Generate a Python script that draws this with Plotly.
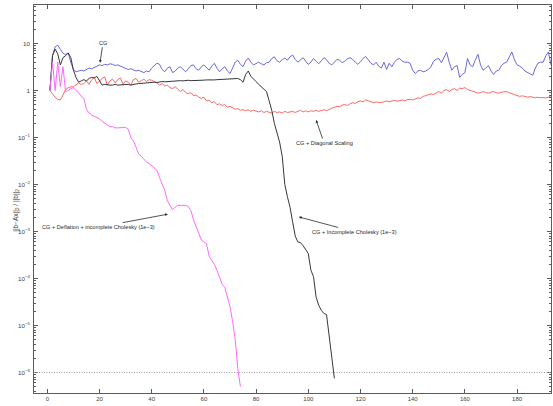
import math
import plotly.graph_objects as go

# ---------------- data ----------------
cg = [1.0, 5.5, 8.5, 9.2, 7.5, 6.2, 5.8, 6.3, 4.0, 2.8,
      2.5, 2.6, 2.7, 2.6, 2.8, 3.0, 2.9, 3.1, 3.3, 3.5,
      3.4, 3.6, 3.5, 3.7, 3.6, 3.4, 3.5, 3.3, 3.1, 3.0,
      2.8, 2.9, 2.7, 2.6, 2.7, 2.5, 2.4, 2.6, 2.5, 3.0,
      3.4, 3.8, 3.6, 2.8, 2.5, 3.0, 3.2, 2.4, 2.6, 3.0,
      3.2, 2.8, 2.5, 2.9, 3.4, 3.5, 2.9, 2.7, 3.2, 3.5,
      3.0, 2.7, 3.3, 3.8, 3.0, 2.5, 2.9, 3.2, 2.6, 2.3,
      3.0, 4.0, 4.4, 3.6, 3.2, 4.2, 4.9, 4.0, 3.5, 3.8,
      4.0, 3.7, 3.5, 3.9, 4.0, 4.8, 5.2, 4.3, 4.0, 4.5,
      4.9, 4.4, 5.2, 5.7, 4.6, 4.0, 4.5, 5.0, 4.2, 3.6,
      4.0, 4.8, 4.2, 3.7, 4.3, 5.0, 4.5, 3.8, 3.5, 4.0,
      4.6, 4.4, 3.9, 4.2, 4.7, 5.0, 4.6, 4.0, 3.6, 4.1,
      4.8, 5.3, 4.5, 3.8, 3.5, 4.0, 3.3, 3.0, 4.0, 2.8,
      3.8, 3.2, 4.0, 4.6, 4.8, 4.2, 4.0, 4.0, 3.8, 2.7,
      2.3, 2.6, 2.7, 2.5, 2.6, 2.8, 3.2, 4.2, 4.6, 4.8,
      3.9, 5.0, 6.5, 4.0, 2.7, 3.2, 3.4, 1.9, 2.2, 2.4,
      4.8, 3.5, 3.2, 4.5, 5.9, 3.5, 2.7, 3.0, 3.4, 2.6,
      2.2, 2.6, 2.7, 3.4, 3.8, 4.0, 5.0, 6.6, 4.5, 3.5,
      3.3, 3.0, 2.6, 2.4, 2.3, 2.1, 3.0, 3.8, 4.0, 4.0,
      5.5, 6.6, 3.5]

cg_diag = [1.0, 0.85, 0.72, 0.65, 0.63, 0.8, 1.05, 1.15, 1.2, 1.2,
           1.3, 1.45, 1.35, 1.4, 1.6, 1.35, 1.7, 1.9, 1.4, 1.6,
           1.8, 1.95, 1.3, 1.6, 1.75, 1.45, 1.7, 1.85, 1.35, 1.6,
           1.5, 1.3, 1.7, 1.8, 1.5, 1.6, 1.75, 1.55, 1.7, 1.65,
           1.55, 1.45, 1.3, 1.4, 1.25, 1.3, 1.15, 1.1, 1.2, 1.05,
           0.95, 1.05, 0.9, 0.85, 0.9, 0.78, 0.8, 0.72, 0.68, 0.72,
           0.6, 0.62, 0.55, 0.58, 0.5, 0.52, 0.48, 0.5, 0.44, 0.46,
           0.42, 0.4, 0.41, 0.38, 0.39, 0.37, 0.39, 0.36, 0.38, 0.37,
           0.35, 0.37, 0.34, 0.36, 0.35, 0.33, 0.36, 0.34, 0.35, 0.33,
           0.36, 0.34, 0.35, 0.36, 0.34, 0.36, 0.38, 0.35, 0.37, 0.35,
           0.37, 0.36, 0.38, 0.36, 0.38, 0.39, 0.37, 0.4, 0.42, 0.44,
           0.46, 0.45, 0.49, 0.5, 0.48, 0.52, 0.55, 0.53, 0.58, 0.6,
           0.57, 0.63, 0.6, 0.58, 0.55, 0.57, 0.57, 0.55, 0.58, 0.6,
           0.57, 0.6, 0.62, 0.59, 0.62, 0.63, 0.6, 0.64, 0.65, 0.63,
           0.66, 0.7, 0.68, 0.75, 0.78, 0.8, 0.85, 0.82, 0.9, 0.95,
           0.88, 1.0, 1.05, 0.95, 1.05, 1.1, 1.0, 1.12, 1.1, 1.15,
           1.05, 1.0, 0.95, 0.92, 0.88, 0.9, 0.95, 0.9, 0.88, 0.92,
           0.95, 0.9, 0.88, 0.92, 0.93, 0.95, 0.9, 0.85, 0.8, 0.78,
           0.75, 0.77, 0.75, 0.72, 0.74, 0.72, 0.7, 0.72, 0.7, 0.71,
           0.69, 0.72, 0.78]

cg_ichol = [1.0, 5.5, 7.6, 6.0, 3.5, 5.0, 5.5, 6.3, 5.0, 2.7,
            1.9, 1.5, 1.6, 1.7, 1.6, 1.8, 1.9, 1.85, 2.0, 1.6,
            1.3, 1.35, 1.3, 1.3, 1.3, 1.35, 1.3, 1.32, 1.3, 1.33,
            1.35, 1.3, 1.35, 1.38, 1.4, 1.42, 1.45, 1.43, 1.46, 1.48,
            1.5, 1.48, 1.52, 1.55, 1.53, 1.55, 1.58, 1.56, 1.58, 1.6,
            1.62, 1.6, 1.63, 1.65, 1.62, 1.64, 1.66, 1.65, 1.67, 1.66,
            1.68, 1.66, 1.7, 1.68, 1.7, 1.72, 1.7, 1.73, 1.75, 1.74,
            1.76, 1.78, 1.8, 1.7, 1.5, 2.2, 2.6, 2.0, 1.8, 1.55,
            1.35, 1.2, 1.05, 0.95, 0.6, 0.38, 0.2, 0.12, 0.08, 0.04,
            0.01, 0.0055, 0.0033, 0.0016, 0.0008, 0.0006, 0.00058, 0.0005, 0.0004, 0.00034,
            0.00015, 0.00011, 0.00004, 0.000027, 0.000021, 0.000018, 0.000017, 0.000006, 0.0000025, 0.00000075]

cg_defl = [1.0, 4.0, 1.0, 4.0, 1.2, 3.2, 0.95, 1.0, 1.1, 1.15,
           1.0, 0.9, 0.75, 0.68, 0.4, 0.33, 0.3, 0.28, 0.27, 0.25,
           0.22, 0.2, 0.18, 0.17, 0.17, 0.16, 0.16, 0.16, 0.165, 0.165,
           0.15, 0.1, 0.085, 0.06, 0.045, 0.04, 0.035, 0.03, 0.028, 0.025,
           0.022, 0.02, 0.014, 0.01, 0.0075, 0.0045, 0.0035, 0.0029, 0.0033, 0.0036,
           0.0036, 0.0036, 0.0036, 0.0034, 0.0028, 0.0018, 0.0013, 0.00085, 0.00066, 0.0006,
           0.00055, 0.0003, 0.00025, 0.0002, 0.00015, 0.0001, 0.000075, 0.000065, 0.00004, 0.000025,
           0.000012, 0.000005, 0.0000012, 0.0000005]

tolerance = 1e-6
x_ticks = [0, 20, 40, 60, 80, 100, 120, 140, 160, 180]

series = [
    ("CG", cg, "rgb(105,105,225)"),
    ("CG + Diagonal Scaling", cg_diag, "rgb(250,105,105)"),
    ("CG + Incomplete Cholesky (1e−3)", cg_ichol, "rgb(55,55,55)"),
    ("CG + Deflation + incomplete Cholesky (1e−3)", cg_defl, "rgb(255,105,255)"),
]

FONT = "Arial, Liberation Sans, sans-serif"

fig = go.Figure()
for name, vals, col in series:
    fig.add_trace(go.Scatter(
        x=list(range(1, len(vals) + 1)), y=vals, mode="lines", name=name,
        line=dict(color=col, width=1), showlegend=False))

fig.add_hline(y=tolerance, line=dict(color="rgb(160,160,160)", width=1, dash="1px,1.5px"))

# annotations (arrow tip in data coords; log axis -> log10 value)
annots = [
    ("CG", 20.2, 3.9, 3, -20),
    ("CG + Diagonal Scaling", 103.0, 0.235, 8, 23),
    ("CG + Incomplete Cholesky (1e−3)", 96.4, 0.00204, 56, 15),
    ("CG + Deflation + incomplete Cholesky (1e−3)", 46.2, 0.00234, -69, 13),
]
for text, xv, yv, ax, ay in annots:
    fig.add_annotation(x=xv, y=math.log10(yv), text=text, showarrow=True,
                       ax=ax, ay=ay, arrowhead=2, arrowsize=0.7, arrowwidth=0.8,
                       arrowcolor="rgb(40,40,40)",
                       font=dict(family=FONT, size=5.6, color="rgb(40,40,40)"))

fig.add_annotation(x=-0.035, y=0.472, xref="paper", yref="paper",
                   xanchor="center", yanchor="middle",
                   text="||b−Ax||<sub>2</sub> / ||b||<sub>2</sub>", textangle=-90,
                   showarrow=False, font=dict(family=FONT, size=6.5, color="rgb(60,60,60)"))

axis_common = dict(showline=True, linecolor="rgb(90,90,90)", linewidth=1,
                   mirror="ticks", ticks="inside", ticklen=4, tickcolor="rgb(90,90,90)",
                   showgrid=False, zeroline=False)

fig.update_xaxes(range=[-5.1, 193.0], tickvals=x_ticks,
                 tickfont=dict(family=FONT, size=6, color="rgb(60,60,60)"), **axis_common)
fig.update_yaxes(type="log", range=[-6.436, 1.819], dtick=1, exponentformat="power",
                 ticklabelstandoff=2,
                 tickfont=dict(family=FONT, size=5, color="rgb(60,60,60)"),
                 minor=dict(ticks="inside", ticklen=2, dtick="D1", tickcolor="rgb(90,90,90)"),
                 **axis_common)

fig.update_layout(width=553, height=406, margin=dict(l=34, r=2, t=5, b=13),
                  plot_bgcolor="white", paper_bgcolor="white")

fig.write_html("out.html", config={"displayModeBar": False},
               post_script="document.body.style.margin='0px';document.body.style.padding='0px';")
